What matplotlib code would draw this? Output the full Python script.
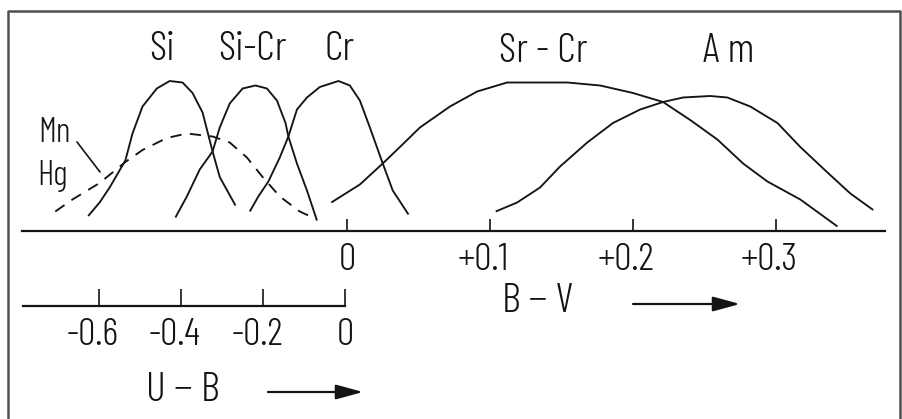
import matplotlib.pyplot as plt
from matplotlib.lines import Line2D
from matplotlib.transforms import ScaledTranslation

# curves: B-V colour index vs. relative frequency (peak ~ 1)
si_bv = [-0.181, -0.173, -0.166, -0.155, -0.150, -0.143, -0.133, -0.124, -0.115, -0.108, -0.101, -0.094, -0.089, -0.078]
si_h = [0.10, 0.19, 0.29, 0.47, 0.65, 0.83, 0.95, 1.00, 0.99, 0.92, 0.79, 0.53, 0.36, 0.17]

sicr_bv = [-0.120, -0.112, -0.103, -0.094, -0.089, -0.082, -0.073, -0.064, -0.056, -0.049, -0.043, -0.041, -0.035, -0.028, -0.021]
sicr_h = [0.09, 0.23, 0.41, 0.53, 0.69, 0.85, 0.95, 0.97, 0.95, 0.87, 0.72, 0.63, 0.45, 0.27, 0.07]

cr_bv = [-0.068, -0.062, -0.055, -0.047, -0.041, -0.035, -0.028, -0.019, -0.006, 0.002, 0.009, 0.016, 0.025, 0.032, 0.043]
cr_h = [0.13, 0.23, 0.33, 0.49, 0.63, 0.81, 0.89, 0.96, 1.00, 0.97, 0.87, 0.69, 0.45, 0.27, 0.11]

mnhg_bv = [-0.204, -0.192, -0.173, -0.155, -0.143, -0.126, -0.112, -0.094, -0.082, -0.070, -0.059, -0.047, -0.033, -0.024]
mnhg_h = [0.13, 0.21, 0.32, 0.46, 0.54, 0.62, 0.65, 0.63, 0.59, 0.49, 0.36, 0.23, 0.13, 0.09]

srcr_bv = [-0.011, 0.009, 0.025, 0.037, 0.051, 0.072, 0.091, 0.112, 0.130, 0.154, 0.177, 0.200, 0.221, 0.240, 0.259, 0.277, 0.294, 0.317, 0.343]
srcr_h = [0.19, 0.31, 0.45, 0.56, 0.69, 0.83, 0.93, 0.99, 0.99, 0.99, 0.97, 0.92, 0.86, 0.74, 0.61, 0.45, 0.33, 0.21, 0.03]

am_bv = [0.104, 0.119, 0.135, 0.149, 0.168, 0.186, 0.205, 0.221, 0.235, 0.254, 0.266, 0.282, 0.301, 0.317, 0.336, 0.352, 0.368]
am_h = [0.13, 0.19, 0.29, 0.43, 0.59, 0.72, 0.81, 0.86, 0.89, 0.90, 0.89, 0.83, 0.72, 0.56, 0.39, 0.25, 0.14]

bv_ticks = [0, 0.1, 0.2, 0.3]
bv_labels = ["0", "+0.1", "+0.2", "+0.3"]
ub_ticks = [-0.6, -0.4, -0.2, 0]
ub_labels = ["-0.6", "-0.4", "-0.2", "0"]

FONT = ["Barlow Condensed", "DejaVu Sans"]
WEIGHT = 300
INK = "#141414"
W, H = 902, 419


def fpos(x, y):
    # pixel position (from top-left) -> figure fraction
    return x / W, 1 - y / H


fig = plt.figure(figsize=(W / 100, H / 100), dpi=100)

# B-V axis (main)
ax = fig.add_axes([0, 0, 1, 1])
ax.set_xlim(-347 / 1430, (W - 347) / 1430)
ax.set_ylim(-(H - 231) / 150, 231 / 150)
ax.patch.set_visible(False)

for bv, h in [(si_bv, si_h), (sicr_bv, sicr_h), (cr_bv, cr_h), (srcr_bv, srcr_h), (am_bv, am_h)]:
    ax.plot(bv, h, color=INK, lw=1.35, solid_capstyle="butt")
ax.plot(mnhg_bv, mnhg_h, color=INK, lw=1.35, ls=(0, (6, 4.5)))

for s in ["top", "left", "right"]:
    ax.spines[s].set_visible(False)
ax.spines["bottom"].set_position(("data", 0))
ax.spines["bottom"].set_bounds(-0.2273, 0.3762)
ax.spines["bottom"].set_linewidth(1.6)
ax.spines["bottom"].set_color(INK)
ax.set_yticks([])
ax.set_xticks(bv_ticks, bv_labels, fontfamily=FONT, fontweight=WEIGHT)
ax.tick_params(axis="x", direction="in", length=8.5, width=1.2, pad=9, labelsize=28, colors=INK)
for lab in ax.get_xticklabels()[1:]:
    lab.set_transform(lab.get_transform() + ScaledTranslation(-0.07, 0, fig.dpi_scale_trans))

# U-B axis (second scale underneath)
ax2 = fig.add_axes([0, 0, 1, 1])
ax2.set_xlim(-345 / 410, (W - 345) / 410)
ax2.set_ylim(ax.get_ylim())
ax2.patch.set_visible(False)
for s in ["top", "left", "right"]:
    ax2.spines[s].set_visible(False)
ax2.spines["bottom"].set_position(("data", -0.5))
ax2.spines["bottom"].set_bounds(-0.785, 0)
ax2.spines["bottom"].set_linewidth(1.6)
ax2.spines["bottom"].set_color(INK)
ax2.set_yticks([])
ax2.set_xticks(ub_ticks, ub_labels, fontfamily=FONT, fontweight=WEIGHT)
ax2.tick_params(axis="x", direction="in", length=12, width=1.2, pad=8.5, labelsize=28, colors=INK)
for lab in ax2.get_xticklabels()[:-1]:
    lab.set_transform(lab.get_transform() + ScaledTranslation(-0.06, 0, fig.dpi_scale_trans))

# curve labels
for txt, x, y, size in [("Si", 162, 50, 30), ("Si-Cr", 252, 50, 30), ("Cr", 340, 50, 30),
                        ("Sr - Cr", 543, 52, 30), ("A m", 729, 52, 30),
                        ("Mn", 54, 133, 25), ("Hg", 52, 176, 25)]:
    fig.text(*fpos(x, y), txt, ha="center", va="center", fontsize=size, family=FONT,
             fontweight=WEIGHT, color=INK)

ax.annotate("", xy=fpos(100, 172), xytext=fpos(77, 142), xycoords="figure fraction",
            arrowprops=dict(arrowstyle="-", lw=1.2, color=INK, shrinkA=0, shrinkB=0))

# axis titles with arrows
fig.text(*fpos(538, 302), "B − V", ha="center", va="center", fontsize=30, family=FONT,
         fontweight=WEIGHT, color=INK)
fig.text(*fpos(183, 390), "U − B", ha="center", va="center", fontsize=30, family=FONT,
         fontweight=WEIGHT, color=INK)
arrow = dict(arrowstyle="-|>,head_length=1.65,head_width=0.45", lw=1.6, color=INK, shrinkA=0, shrinkB=0)
ax.annotate("", xy=fpos(740, 304), xytext=fpos(633, 304), xycoords="figure fraction", arrowprops=arrow)
ax.annotate("", xy=fpos(363, 392), xytext=fpos(268, 392), xycoords="figure fraction", arrowprops=arrow)

# frame
fx = [8 / W, 8 / W, 900 / W, 900 / W]
fy = [0, 1 - 11 / H, 1 - 11 / H, 0]
fig.add_artist(Line2D(fx, fy, color="#505050", lw=1.8))

fig.savefig("out.png", dpi=100, facecolor="white")
